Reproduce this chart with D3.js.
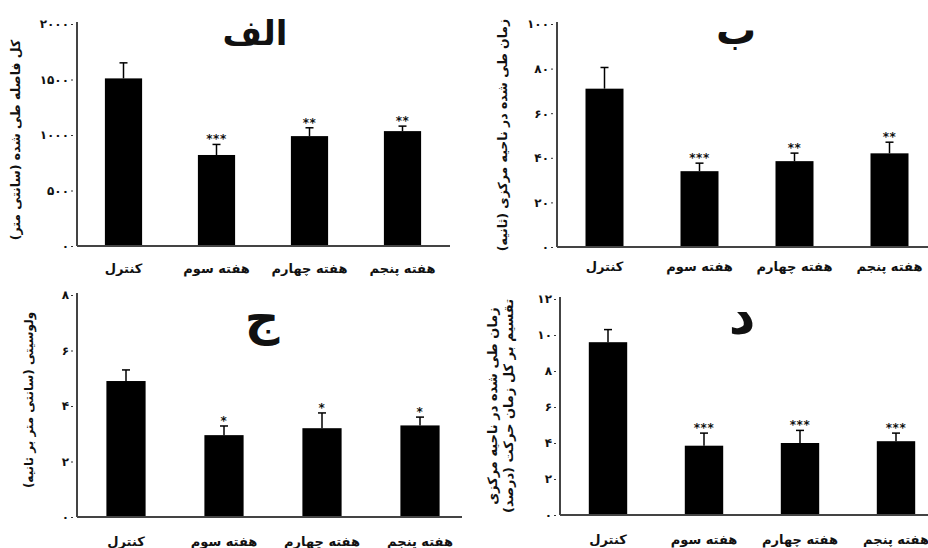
<!DOCTYPE html>
<html lang="fa">
<head>
<meta charset="utf-8">
<script src="https://cdn.jsdelivr.net/npm/d3@7"></script>
<style>
  html, body { margin: 0; padding: 0; background: #fff; }
  svg { display: block; }
  text { font-family: "DejaVu Sans", "Noto Sans", sans-serif; font-weight: bold; fill: #111; }
  .fa { direction: rtl; unicode-bidi: embed; }
</style>
</head>
<body>
<svg id="chart" width="928" height="548"></svg>
<script>
// ---------- DATA ----------
const categories = ["کنترل", "هفته سوم", "هفته چهارم", "هفته پنجم"];

const panelTitles = ["الف", "ب", "ج", "د"];

const yTitles = [
  ["کل فاصله طی شده (سانتی متر)"],
  ["زمان طی شده در ناحیه مرکزی (ثانیه)"],
  ["ولوسیتی (سانتی متر بر ثانیه)"],
  ["زمان طی شده در ناحیه مرکزی", "تقسیم بر کل زمان حرکت (درصد)"]
];

const valuesA = [1510, 820, 990, 1035];
const errorsA = [140, 95, 75, 45];
const starsA  = ["", "***", "**", "**"];
const ticksA  = [0, 500, 1000, 1500, 2000];

const valuesB = [71, 34, 38.5, 42];
const errorsB = [9.5, 3.6, 3.6, 5];
const starsB  = ["", "***", "**", "**"];
const ticksB  = [0, 20, 40, 60, 80, 100];

const valuesC = [4.9, 2.95, 3.2, 3.3];
const errorsC = [0.4, 0.33, 0.55, 0.3];
const starsC  = ["", "*", "*", "*"];
const ticksC  = [0, 2, 4, 6, 8];

const valuesD = [9.6, 3.85, 4.0, 4.1];
const errorsD = [0.7, 0.7, 0.7, 0.45];
const starsD  = ["", "***", "***", "***"];
const ticksD  = [0, 2, 4, 6, 8, 10, 12];

// ---------- LAYOUT ----------
const panels = [
  { values: valuesA, errors: errorsA, stars: starsA, ticks: ticksA, title: panelTitles[0], ytitle: yTitles[0],
    x0: 77, step: 93, axisEnd: 450, yTop: 24, yBot: 246, titleX: 255, titleY: 45, titleSize: 34,
    ytX: 16, ytY: 140, ytSize: 12.5, ytGap: 15, labY: 273 },
  { values: valuesB, errors: errorsB, stars: starsB, ticks: ticksB, title: panelTitles[1], ytitle: yTitles[1],
    x0: 557, step: 95, axisEnd: 928, yTop: 24, yBot: 247, titleX: 736, titleY: 44, titleSize: 40,
    ytX: 503, ytY: 135, ytSize: 12.5, ytGap: 15, labY: 271 },
  { values: valuesC, errors: errorsC, stars: starsC, ticks: ticksC, title: panelTitles[2], ytitle: yTitles[2],
    x0: 77, step: 98, axisEnd: 462, yTop: 295, yBot: 517, titleX: 262, titleY: 334, titleSize: 48,
    ytX: 29, ytY: 400, ytSize: 12, ytGap: 15, labY: 546 },
  { values: valuesD, errors: errorsD, stars: starsD, ticks: ticksD, title: panelTitles[3], ytitle: yTitles[3],
    x0: 560, step: 96, axisEnd: 928, yTop: 299, yBot: 515, titleX: 742, titleY: 334, titleSize: 52,
    ytX: 492, ytY: 406, ytSize: 13, ytGap: 16, labY: 544 }
];

const persianDigits = "۰۱۲۳۴۵۶۷۸۹";
const toFa = d => String(d).replace(/[0-9]/g, c => persianDigits[+c]);

const svg = d3.select("#chart");

panels.forEach(p => {
  const g = svg.append("g");
  const x = d3.scaleBand()
    .domain(categories)
    .range([p.x0, p.x0 + p.step * categories.length])
    .paddingInner(0.6)
    .paddingOuter(0.3);
  const yMax = p.ticks[p.ticks.length - 1];
  const y = d3.scaleLinear().domain([0, yMax]).range([p.yBot, p.yTop]);

  // y axis (labels only, custom axis line)
  const yAxis = g.append("g")
    .attr("transform", `translate(${p.x0},0)`)
    .call(d3.axisLeft(y).tickValues(p.ticks).tickFormat(toFa).tickSize(2).tickPadding(6));
  yAxis.select(".domain").remove();
  yAxis.selectAll(".tick line").attr("stroke", "#333").attr("transform", "translate(-4,0)");
  yAxis.selectAll(".tick text").attr("font-size", 12).attr("font-family", "DejaVu Sans").attr("font-weight", "bold").attr("fill", "#222");

  // x axis labels
  const xAxis = g.append("g")
    .attr("transform", `translate(0,${p.yBot})`)
    .call(d3.axisBottom(x).tickSize(0).tickPadding(0));
  xAxis.select(".domain").remove();
  xAxis.selectAll(".tick text")
    .attr("class", "fa")
    .attr("y", p.labY - p.yBot)
    .attr("dy", 0)
    .attr("font-size", 13)
    .attr("font-family", "DejaVu Sans")
    .attr("font-weight", "bold")
    .attr("fill", "#111");

  // bars
  const data = categories.map((c, i) => ({ c, v: p.values[i], e: p.errors[i], s: p.stars[i] }));
  g.selectAll("rect.bar").data(data).join("rect")
    .attr("class", "bar")
    .attr("x", d => x(d.c))
    .attr("width", x.bandwidth())
    .attr("y", d => y(d.v))
    .attr("height", d => y(0) - y(d.v))
    .attr("fill", "#000");

  // error bars
  g.selectAll("line.err").data(data).join("line")
    .attr("class", "err")
    .attr("x1", d => x(d.c) + x.bandwidth() / 2)
    .attr("x2", d => x(d.c) + x.bandwidth() / 2)
    .attr("y1", d => y(d.v))
    .attr("y2", d => y(d.v + d.e))
    .attr("stroke", "#000").attr("stroke-width", 1.5);
  g.selectAll("line.cap").data(data).join("line")
    .attr("class", "cap")
    .attr("x1", d => x(d.c) + x.bandwidth() / 2 - 4)
    .attr("x2", d => x(d.c) + x.bandwidth() / 2 + 4)
    .attr("y1", d => y(d.v + d.e))
    .attr("y2", d => y(d.v + d.e))
    .attr("stroke", "#000").attr("stroke-width", 1.5);

  // significance stars
  g.selectAll("text.star").data(data.filter(d => d.s)).join("text")
    .attr("class", "star")
    .attr("x", d => x(d.c) + x.bandwidth() / 2)
    .attr("y", d => y(d.v + d.e) - 1)
    .attr("text-anchor", "middle")
    .attr("font-size", 12)
    .attr("letter-spacing", 0.5)
    .text(d => d.s);

  // axis lines
  g.append("line")
    .attr("x1", p.x0).attr("x2", p.x0)
    .attr("y1", p.yTop - 2).attr("y2", p.yBot)
    .attr("stroke", "#444").attr("stroke-width", 2);
  g.append("line")
    .attr("x1", p.x0).attr("x2", p.axisEnd)
    .attr("y1", p.yBot).attr("y2", p.yBot)
    .attr("stroke", "#444").attr("stroke-width", 2);

  // panel title
  g.append("text")
    .attr("class", "fa")
    .attr("x", p.titleX).attr("y", p.titleY)
    .attr("text-anchor", "middle")
    .attr("font-size", p.titleSize)
    .text(p.title);

  // y title (rotated)
  p.ytitle.forEach((t, i) => {
    g.append("text")
      .attr("class", "fa")
      .attr("transform", `translate(${p.ytX + i * p.ytGap},${p.ytY}) rotate(-90)`)
      .attr("text-anchor", "middle")
      .attr("dy", "0.35em")
      .attr("font-size", p.ytSize)
      .text(t);
  });
});
</script>
</body>
</html>
